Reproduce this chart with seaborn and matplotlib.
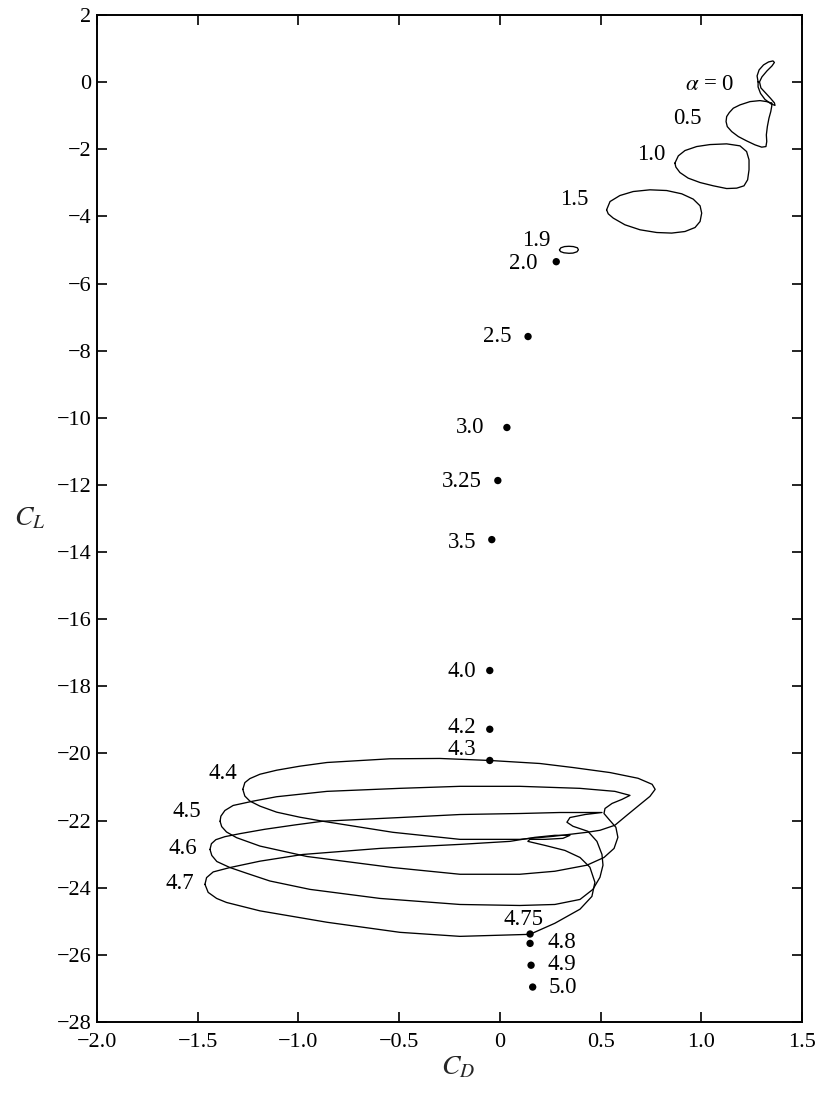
import matplotlib
matplotlib.use("Agg")
import matplotlib.pyplot as plt
import seaborn as sns
import pandas as pd

# Limit cycles in the (C_D, C_L) plane, one closed orbit per angle of attack
loop_alpha = ["0", "0.5", "1.0", "1.5", "1.9", "4.4", "4.5", "4.6", "4.7"]

cd_a00 = [1.282, 1.277, 1.287, 1.309, 1.334, 1.356, 1.363, 1.351, 1.326, 1.301, 1.289, 1.296, 1.319, 1.344,
          1.363, 1.366, 1.346, 1.316, 1.294, 1.282, 1.282]
cl_a00 = [0.006, 0.185, 0.363, 0.512, 0.601, 0.631, 0.586, 0.482, 0.333, 0.155, 0.006, -0.173, -0.322, -0.485,
          -0.619, -0.694, -0.649, -0.515, -0.336, -0.143, 0.006]

cd_a05 = [1.350, 1.325, 1.291, 1.242, 1.192, 1.159, 1.139, 1.126, 1.123, 1.129, 1.151, 1.184, 1.225, 1.267,
          1.300, 1.321, 1.325, 1.323, 1.328, 1.336, 1.345, 1.350, 1.350]
cl_a05 = [-0.628, -0.581, -0.551, -0.581, -0.679, -0.777, -0.908, -1.027, -1.176, -1.325, -1.474, -1.623,
          -1.751, -1.870, -1.938, -1.920, -1.771, -1.572, -1.325, -1.075, -0.878, -0.709, -0.628]

cd_a10 = [0.869, 0.886, 0.919, 0.977, 1.043, 1.126, 1.192, 1.225, 1.237, 1.237, 1.230, 1.212, 1.176, 1.126,
          1.060, 0.994, 0.935, 0.894, 0.874, 0.869]
cl_a10 = [-2.414, -2.197, -2.039, -1.920, -1.861, -1.840, -1.899, -2.069, -2.316, -2.614, -2.911, -3.090,
          -3.159, -3.171, -3.090, -2.992, -2.861, -2.694, -2.533, -2.414]

cd_a15 = [0.530, 0.547, 0.596, 0.662, 0.745, 0.828, 0.903, 0.960, 0.994, 1.002, 0.994, 0.969, 0.919, 0.853,
          0.779, 0.696, 0.621, 0.563, 0.538, 0.530]
cl_a15 = [-3.804, -3.558, -3.379, -3.260, -3.209, -3.230, -3.328, -3.486, -3.686, -3.903, -4.153, -4.332,
          -4.451, -4.498, -4.481, -4.400, -4.251, -4.052, -3.924, -3.804]

cd_a19 = [0.296, 0.303, 0.321, 0.343, 0.365, 0.385, 0.390, 0.383, 0.363, 0.343, 0.318, 0.301, 0.296]
cl_a19 = [-4.996, -4.936, -4.900, -4.891, -4.900, -4.936, -4.996, -5.055, -5.094, -5.100, -5.085, -5.049, -4.996]

cd_a44 = [-1.276, -1.266, -1.241, -1.191, -1.108, -0.993, -0.858, -0.546, -0.298, -0.049, 0.199, 0.363, 0.547,
          0.686, 0.756, 0.771, 0.745, 0.696, 0.631, 0.571, 0.497, 0.432, 0.264, 0.099, -0.198, -0.531, -0.879,
          -0.993, -1.108, -1.191, -1.241, -1.266, -1.276]
cl_a44 = [-21.07, -20.87, -20.75, -20.62, -20.50, -20.38, -20.27, -20.16, -20.15, -20.21, -20.30, -20.42,
          -20.57, -20.74, -20.92, -21.07, -21.28, -21.52, -21.84, -22.14, -22.29, -22.35, -22.47, -22.56,
          -22.56, -22.35, -22.02, -21.90, -21.75, -21.57, -21.42, -21.27, -21.07]

cd_a45 = [-1.389, -1.385, -1.365, -1.324, -1.224, -1.108, -0.858, -0.496, -0.198, 0.099, 0.397, 0.571, 0.646,
          0.606, 0.557, 0.522, 0.517, 0.541, 0.576, 0.586, 0.567, 0.517, 0.432, 0.273, 0.099, -0.198, -0.531,
          -0.958, -1.191, -1.307, -1.357, -1.381, -1.389]
cl_a45 = [-22.02, -21.87, -21.70, -21.55, -21.42, -21.29, -21.13, -21.04, -20.98, -20.98, -21.04, -21.13,
          -21.25, -21.37, -21.49, -21.64, -21.79, -21.96, -22.20, -22.50, -22.83, -23.10, -23.33, -23.51,
          -23.60, -23.60, -23.40, -23.07, -22.76, -22.51, -22.34, -22.18, -22.02]

cd_a46 = [-1.439, -1.432, -1.410, -1.365, -1.290, -1.167, -1.017, -0.879, -0.496, -0.198, 0.099, 0.298, 0.507,
          0.423, 0.348, 0.333, 0.363, 0.437, 0.482, 0.507, 0.512, 0.497, 0.462, 0.398, 0.273, 0.099, -0.198,
          -0.595, -0.943, -1.142, -1.257, -1.340, -1.405, -1.430, -1.439]
cl_a46 = [-22.86, -22.69, -22.57, -22.48, -22.39, -22.26, -22.13, -22.02, -21.91, -21.82, -21.79, -21.76,
          -21.76, -21.82, -21.91, -22.05, -22.17, -22.32, -22.62, -23.01, -23.33, -23.69, -24.05, -24.35,
          -24.50, -24.53, -24.50, -24.32, -24.05, -23.80, -23.57, -23.40, -23.22, -23.04, -22.86]

cd_a47 = [-1.464, -1.456, -1.423, -1.340, -1.191, -0.978, -0.596, -0.198, 0.050, 0.174, 0.273, 0.348, 0.313,
          0.224, 0.149, 0.139, 0.224, 0.323, 0.398, 0.447, 0.472, 0.457, 0.398, 0.273, 0.149, -0.198, -0.496,
          -0.858, -1.191, -1.357, -1.406, -1.448, -1.464]
cl_a47 = [-23.90, -23.70, -23.53, -23.40, -23.21, -23.01, -22.83, -22.71, -22.62, -22.50, -22.44, -22.44,
          -22.53, -22.56, -22.56, -22.62, -22.74, -22.89, -23.10, -23.39, -23.84, -24.26, -24.64, -25.06,
          -25.39, -25.45, -25.33, -25.03, -24.69, -24.44, -24.32, -24.14, -23.90]

loop_cd = [cd_a00, cd_a05, cd_a10, cd_a15, cd_a19, cd_a44, cd_a45, cd_a46, cd_a47]
loop_cl = [cl_a00, cl_a05, cl_a10, cl_a15, cl_a19, cl_a44, cl_a45, cl_a46, cl_a47]

# Steady (fixed-point) solutions
steady_alpha = ["2.0", "2.5", "3.0", "3.25", "3.5", "4.0", "4.2", "4.3", "4.75", "4.8", "4.9", "5.0"]
steady_cd = [0.28, 0.14, 0.035, -0.01, -0.04, -0.05, -0.05, -0.05, 0.15, 0.15, 0.155, 0.163]
steady_cl = [-5.35, -7.58, -10.29, -11.87, -13.63, -17.53, -19.28, -20.21, -25.38, -25.66, -26.31, -26.96]

# Annotation anchors (data coordinates) for the angle-of-attack labels
label_text = [r"$\alpha$ = 0", "0.5", "1.0", "1.5", "1.9", "2.0", "2.5", "3.0", "3.25", "3.5", "4.0", "4.2",
              "4.3", "4.4", "4.5", "4.6", "4.7", "4.75", "4.8", "4.9", "5.0"]
label_x = [1.04, 0.93, 0.75, 0.37, 0.18, 0.115, -0.015, -0.15, -0.19, -0.185, -0.19, -0.19,
           -0.19, -1.375, -1.555, -1.575, -1.59, 0.115, 0.31, 0.31, 0.315]
label_y = [-0.06, -1.08, -2.17, -3.51, -4.73, -5.41, -7.58, -10.29, -11.90, -13.72, -17.56, -19.24,
           -19.87, -20.59, -21.73, -22.83, -23.87, -24.94, -25.62, -26.28, -26.97]

xticks = [-2.0, -1.5, -1.0, -0.5, 0.0, 0.5, 1.0, 1.5]
xtick_labels = ["\u22122.0", "\u22121.5", "\u22121.0", "\u22120.5", "0", "0.5", "1.0", "1.5"]
yticks = list(range(2, -29, -2))
ytick_labels = [str(v).replace("-", "\u2212") for v in yticks]

sns.set_style("ticks", {"xtick.direction": "in", "ytick.direction": "in"})
plt.rcParams["font.family"] = ["Liberation Serif", "DejaVu Serif"]
plt.rcParams["mathtext.fontset"] = "stix"

fig = plt.figure(figsize=(8.24, 10.93), dpi=100)
ax = fig.add_axes([0.1177, 0.065, 0.9733 - 0.1177, 0.9863 - 0.065])

for name, xs, ys in zip(loop_alpha, loop_cd, loop_cl):
    df = pd.DataFrame({"CD": xs, "CL": ys})
    sns.lineplot(data=df, x="CD", y="CL", sort=False, estimator=None, ax=ax,
                 color="black", linewidth=0.95)

steady = pd.DataFrame({"alpha": steady_alpha, "CD": steady_cd, "CL": steady_cl})
sns.scatterplot(data=steady, x="CD", y="CL", ax=ax, color="black", s=28,
                edgecolor="none", zorder=5)

for t, x, y in zip(label_text, label_x, label_y):
    ax.text(x, y, t, ha="center", va="center", fontsize=16.5, color="black")

ax.set_xlim(-2.0, 1.5)
ax.set_ylim(-28, 2)
ax.set_xticks(xticks)
ax.set_xticklabels(xtick_labels)
ax.set_yticks(yticks)
ax.set_yticklabels(ytick_labels)
ax.tick_params(axis="both", which="both", direction="in", length=7, width=1.2,
               top=True, right=True, labelsize=16, colors="black")
ax.tick_params(axis="x", pad=8)
ax.tick_params(axis="y", pad=4)
for sp in ax.spines.values():
    sp.set_visible(True)
    sp.set_linewidth(1.4)
    sp.set_color("black")

ax.set_xlabel(r"$C_D$", fontsize=20)
ax.set_ylabel(r"$C_L$", fontsize=20, rotation=0)
ax.xaxis.set_label_coords(0.512, -0.033)
ax.yaxis.set_label_coords(-0.095, 0.487)

fig.savefig("out.png", dpi=100, facecolor="white")
